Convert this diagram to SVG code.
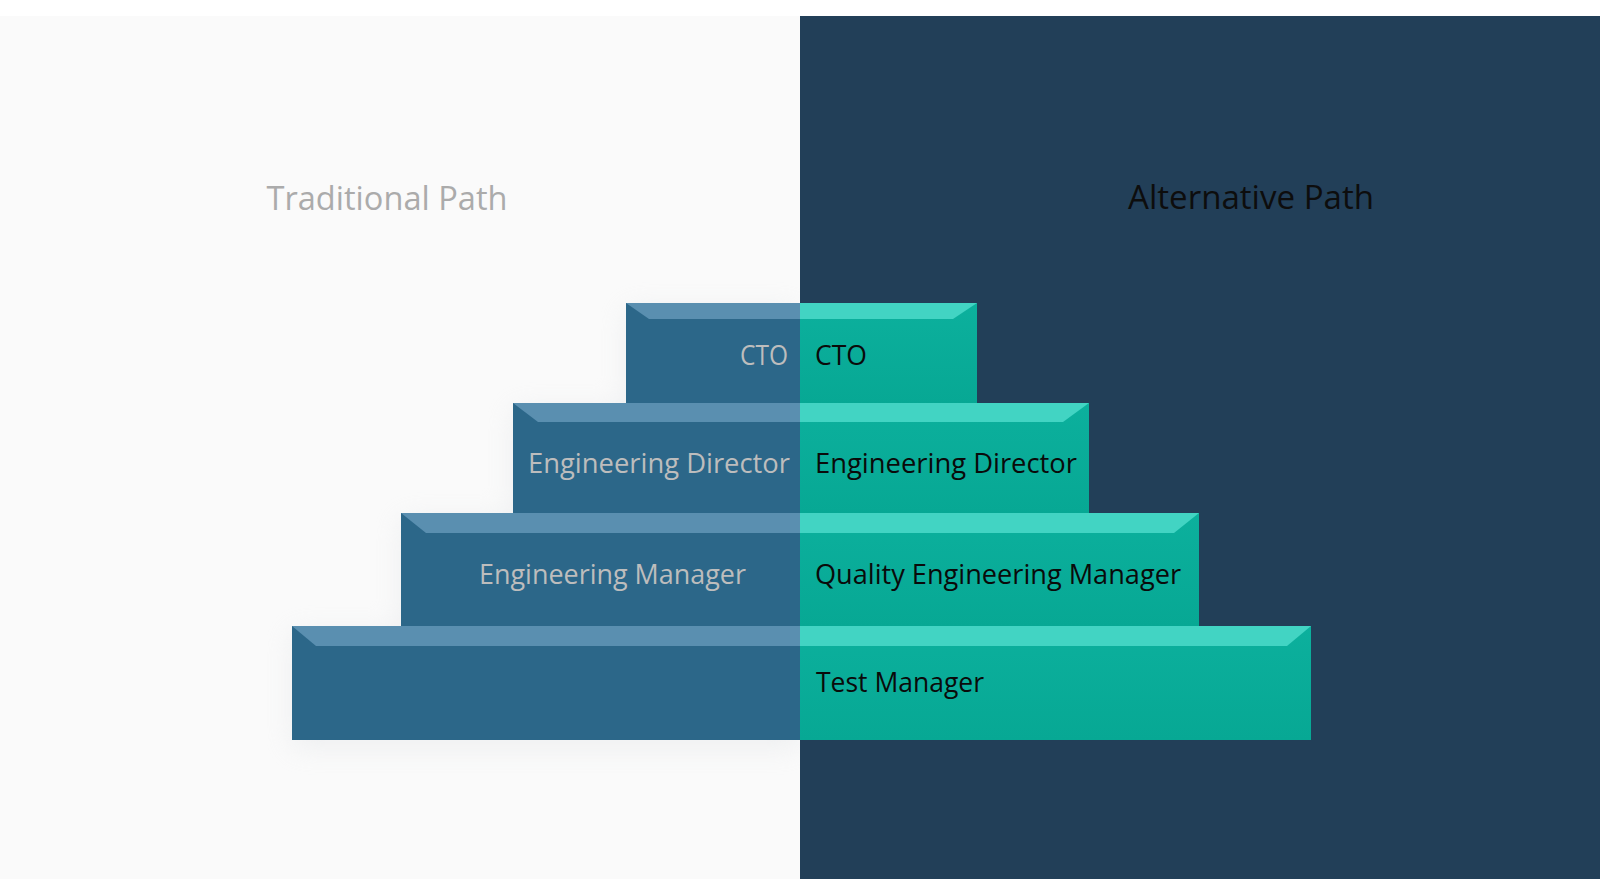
<svg xmlns="http://www.w3.org/2000/svg" width="1600" height="896" viewBox="0 0 1600 896">
  <defs>
    <linearGradient id="tealBody" x1="0" y1="0" x2="0" y2="1">
      <stop offset="0" stop-color="#0cb09d"/>
      <stop offset="1" stop-color="#07a894"/>
    </linearGradient>
    <filter id="soft" x="-10%" y="-20%" width="120%" height="140%">
      <feGaussianBlur stdDeviation="14"/>
    </filter>
    <clipPath id="leftSide">
      <rect x="0" y="16" width="800" height="863"/>
    </clipPath>
    <style>
      .blue { fill: #2c6789; }
      .blueTop { fill: #5a8fb0; }
      .teal { fill: url(#tealBody); }
      .tealTop { fill: #42d4c3; }
      .lbl { font-family: "Open Sans", "Noto Sans", "Liberation Sans", sans-serif; font-size: 27px; }
      .lblL { fill: #bdbdbd; }
      .lblR { fill: #0a0a0a; }
      .title { font-family: "Open Sans", "Noto Sans", "Liberation Sans", sans-serif; font-size: 33px; }
    </style>
  </defs>

  <rect x="0" y="0" width="1600" height="896" fill="#ffffff"/>
  <rect x="0" y="16" width="800" height="863" fill="#fafafa"/>
  <rect x="800" y="16" width="800" height="863" fill="#223f58"/>

  <!-- soft shadow under pyramid on light side -->
  <g clip-path="url(#leftSide)">
    <path d="M292,632 L401,632 L401,519 L513,519 L513,409 L626,409 L626,309 L800,309 L800,748 L292,748 Z" fill="#dcdfe2" opacity="0.4" filter="url(#soft)"/>
  </g>

  <text class="title" x="387" y="210" text-anchor="middle" fill="#ababab" textLength="241" lengthAdjust="spacingAndGlyphs">Traditional Path</text>
  <text class="title" x="1251" y="209" text-anchor="middle" fill="#0d0d0d" textLength="246" lengthAdjust="spacingAndGlyphs">Alternative Path</text>

  <!-- Step 4 (bottom) -->
  <g id="step4">
    <rect class="blue" x="292" y="626" width="508" height="114"/>
    <rect class="teal" x="800" y="626" width="511" height="114"/>
    <polygon class="blueTop" points="292,626 800,626 800,646 316,646"/>
    <polygon class="tealTop" points="800,626 1311,626 1287,646 800,646"/>
    <text class="lbl lblR" x="816" y="692" textLength="168" lengthAdjust="spacingAndGlyphs">Test Manager</text>
  </g>

  <!-- Step 3 -->
  <g id="step3">
    <rect class="blue" x="401" y="513" width="399" height="113"/>
    <rect class="teal" x="800" y="513" width="399" height="113"/>
    <polygon class="blueTop" points="401,513 800,513 800,533 426,533"/>
    <polygon class="tealTop" points="800,513 1199,513 1174,533 800,533"/>
    <text class="lbl lblL" x="479" y="584" textLength="267" lengthAdjust="spacingAndGlyphs">Engineering Manager</text>
    <text class="lbl lblR" x="815" y="584" textLength="366" lengthAdjust="spacingAndGlyphs">Quality Engineering Manager</text>
  </g>

  <!-- Step 2 -->
  <g id="step2">
    <rect class="blue" x="513" y="403" width="287" height="110"/>
    <rect class="teal" x="800" y="403" width="289" height="110"/>
    <polygon class="blueTop" points="513,403 800,403 800,422 538,422"/>
    <polygon class="tealTop" points="800,403 1089,403 1063,422 800,422"/>
    <text class="lbl lblL" x="528" y="473" textLength="262" lengthAdjust="spacingAndGlyphs">Engineering Director</text>
    <text class="lbl lblR" x="815" y="473" textLength="262" lengthAdjust="spacingAndGlyphs">Engineering Director</text>
  </g>

  <!-- Step 1 (top) -->
  <g id="step1">
    <rect class="blue" x="626" y="303" width="174" height="100"/>
    <rect class="teal" x="800" y="303" width="177" height="100"/>
    <polygon class="blueTop" points="626,303 800,303 800,319 649,319"/>
    <polygon class="tealTop" points="800,303 977,303 953,319 800,319"/>
    <text class="lbl lblL" x="740" y="365" textLength="48" lengthAdjust="spacingAndGlyphs">CTO</text>
    <text class="lbl lblR" x="815" y="365" textLength="52" lengthAdjust="spacingAndGlyphs">CTO</text>
  </g>

  <g id="connectors"/>
</svg>
